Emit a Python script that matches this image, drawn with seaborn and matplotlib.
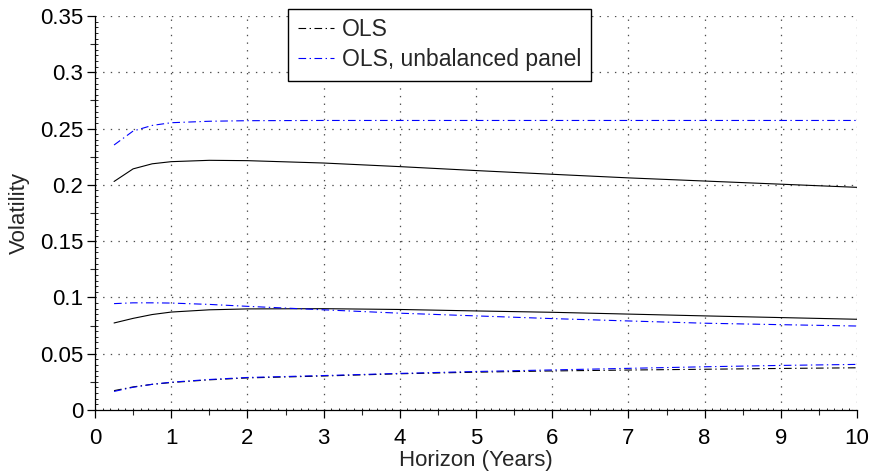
import numpy as np
import pandas as pd
import matplotlib
matplotlib.use("Agg")
import matplotlib.pyplot as plt
import seaborn as sns
from matplotlib.lines import Line2D

# ---- data ----
horizon = [0.25, 0.5, 0.75, 1, 1.5, 2, 3, 4, 5, 6, 7, 8, 9, 10]
ols_total = [0.2030, 0.2142, 0.2187, 0.2206, 0.2218, 0.2215, 0.2194, 0.2162,
             0.2127, 0.2094, 0.2062, 0.2034, 0.2006, 0.1978]
unb_total = [0.2354, 0.2478, 0.2528, 0.2552, 0.2565, 0.2570, 0.2572, 0.2572,
             0.2572, 0.2572, 0.2572, 0.2572, 0.2572, 0.2572]
ols_mid = [0.0773, 0.0814, 0.0848, 0.0870, 0.0890, 0.0898, 0.0900, 0.0893,
           0.0880, 0.0868, 0.0852, 0.0836, 0.0821, 0.0806]
unb_mid = [0.0945, 0.0952, 0.0952, 0.0950, 0.0938, 0.0921, 0.0890, 0.0860,
           0.0836, 0.0812, 0.0791, 0.0771, 0.0758, 0.0746]
ols_low = [0.0172, 0.0205, 0.0228, 0.0244, 0.0268, 0.0285, 0.0302, 0.0322,
           0.0336, 0.0347, 0.0355, 0.0362, 0.0369, 0.0375]
unb_low = [0.0165, 0.0202, 0.0228, 0.0247, 0.0271, 0.0289, 0.0306, 0.0325,
           0.0342, 0.0356, 0.0370, 0.0384, 0.0396, 0.0405]

legend_labels = ["OLS", "OLS, unbalanced panel"]
xlabel = "Horizon (Years)"
ylabel = "Volatility"

# ---- style ----
sns.set_style("ticks")
plt.rcParams["font.family"] = ["Liberation Sans", "DejaVu Sans"]
plt.rcParams["lines.scale_dashes"] = False

fig = plt.figure(figsize=(8.74, 4.74), dpi=100)
ax = fig.add_axes([95 / 874, 1 - 410 / 474, 762 / 874, 394 / 474])

dashdot = (0, (5.5, 2.5, 1.0, 2.5))
lw = 0.8

series = [
    (ols_total, "black", "-"),
    (ols_mid, "black", "-"),
    (ols_low, "black", dashdot),
    (unb_total, "#0000ff", dashdot),
    (unb_mid, "#0000ff", dashdot),
    (unb_low, "#0000ff", dashdot),
]
for vals, col, ls in series:
    sns.lineplot(x=horizon, y=vals, ax=ax, color=col, linestyle=ls, linewidth=lw)

ax.set_xlim(0, 10)
ax.set_ylim(0, 0.35)
ax.set_xticks(np.arange(0, 11, 1))
ax.set_yticks(np.arange(0, 0.351, 0.05))
ax.set_yticklabels(["0", "0.05", "0.1", "0.15", "0.2", "0.25", "0.3", "0.35"])
ax.set_xticks(np.arange(0, 10.001, 0.1), minor=True)
ax.set_yticks(np.arange(0, 0.3501, 0.005), minor=True)

ax.tick_params(which="major", direction="out", length=5.5, width=0.9,
               labelsize=16, colors="black")
ax.tick_params(axis="y", which="major", pad=3)
ax.tick_params(axis="x", which="major", pad=7.5)
ax.tick_params(which="minor", direction="in", length=1.8, width=0.6, colors="black")

for s in ["top", "right"]:
    ax.spines[s].set_visible(False)
for s in ["left", "bottom"]:
    ax.spines[s].set_linewidth(0.9)
    ax.spines[s].set_color("black")

# medium ticks
secx = ax.secondary_xaxis("bottom")
secx.set_xticks(np.arange(0.5, 10, 1.0))
secx.set_xticklabels([])
secx.tick_params(direction="out", length=3.5, width=0.8)
secx.spines["bottom"].set_visible(False)
secy = ax.secondary_yaxis("left")
secy.set_yticks(np.arange(0.025, 0.35, 0.05))
secy.set_yticklabels([])
secy.tick_params(direction="out", length=3.5, width=0.8)
secy.spines["left"].set_visible(False)

ax.grid(True, which="major", linestyle=(0, (1, 4.5)), linewidth=0.9, color="0.3")

ax.set_xlabel(xlabel, fontsize=16, labelpad=1)
ax.set_ylabel(ylabel, fontsize=16)
ax.yaxis.set_label_coords(-0.085, 0.5)

handles = [Line2D([], [], color="black", linestyle=dashdot, linewidth=lw),
           Line2D([], [], color="#0000ff", linestyle=dashdot, linewidth=lw)]
leg = fig.legend(handles, legend_labels, loc="upper left",
                 bbox_to_anchor=(288 / 874, 1 - 8.7 / 474), borderaxespad=0,
                 fontsize=16.5, frameon=True, fancybox=False, framealpha=1,
                 edgecolor="black", borderpad=0.42, labelspacing=0.3,
                 handlelength=1.6, handletextpad=0.35)
leg.get_frame().set_linewidth(1.0)

fig.savefig("out.png", dpi=100)
